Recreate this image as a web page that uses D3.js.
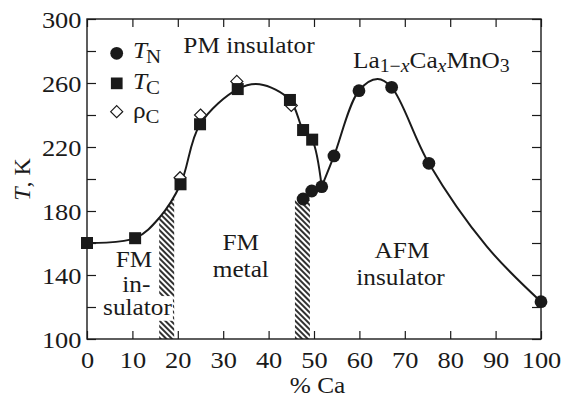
<!DOCTYPE html>
<html><head><meta charset="utf-8">
<script src="https://cdn.jsdelivr.net/npm/d3@7"></script>
<style>
body{margin:0;background:#fff}
svg{display:block}
text{font-family:"Liberation Serif","Times New Roman",serif;fill:#1a1a1a}
</style>
</head><body>
<svg id="c" width="564" height="400"></svg>
<script>
// ---- data ----
const tnX = [47.6, 49.5, 51.7, 54.4, 59.9, 67.1, 75.3, 100];
const tnY = [187.5, 192.5, 195.2, 214.4, 255.2, 257.3, 209.8, 123.3];
const tcX = [0, 10.6, 20.6, 24.9, 33.2, 44.7, 47.6, 49.6];
const tcY = [160, 163, 196.7, 234.2, 256.2, 249.4, 230.6, 224.6];
const rhoX = [20.5, 25, 33, 45];
const rhoY = [200.8, 240, 261, 246];
const leftCurveX = [0, 10.6, 16, 20.6, 24.9, 33.2, 38, 44.7, 47.6, 49.6, 51.7];
const leftCurveY = [160, 163, 176, 196.7, 234.2, 256.2, 259.2, 249.4, 230.6, 224.6, 195.2];
const rightCurveX = [51.7, 54.4, 59.9, 64, 67.1, 75.3, 88, 100];
const rightCurveY = [195.2, 214.4, 255.2, 262.5, 257.3, 209.8, 158, 123.3];
const hatchX0 = [15.9, 45.8];
const hatchX1 = [19.2, 49.1];
const hatchTop = [300, 187];
const xTicks = [0, 10, 20, 30, 40, 50, 60, 70, 80, 90, 100];
const yTicks = [100, 120, 140, 160, 180, 200, 220, 240, 260, 280, 300];
const yTickLabels = [100, 140, 180, 220, 260, 300];

// ---- layout ----
const L = 87, R = 541, T = 19, B = 339;
const SX = 1.1; // horizontal text stretch
const ink = "#1a1a1a";
const svg = d3.select("#c");
const x = d3.scaleLinear().domain([0, 100]).range([L, R]);
const y = d3.scaleLinear().domain([100, 300]).range([B, T]);

const defs = svg.append("defs");
const pat = defs.append("pattern").attr("id", "hatch")
  .attr("patternUnits", "userSpaceOnUse").attr("width", 4).attr("height", 4)
  .attr("patternTransform", "rotate(-45)");
pat.append("rect").attr("width", 4).attr("height", 4).attr("fill", "#fff");
pat.append("line").attr("x1", 2).attr("y1", -1).attr("x2", 2).attr("y2", 5)
  .attr("stroke", ink).attr("stroke-width", 1.8);

const leftPts = leftCurveX.map((v, i) => [v, leftCurveY[i]]);
const rightPts = rightCurveX.map((v, i) => [v, rightCurveY[i]]);
const curve = d3.curveCatmullRom.alpha(0.5);
const areaGen = d3.area().x(d => x(d[0])).y0(B).y1(d => y(d[1])).curve(curve);
defs.append("clipPath").attr("id", "under").append("path").attr("d", areaGen(leftPts));

// hatched regions
svg.append("g").attr("clip-path", "url(#under)").selectAll("rect")
  .data(hatchX0.map((v, i) => ({x0: v, x1: hatchX1[i], top: hatchTop[i]})))
  .join("rect")
  .attr("x", d => x(d.x0)).attr("width", d => x(d.x1) - x(d.x0))
  .attr("y", d => y(d.top)).attr("height", d => B - y(d.top))
  .attr("fill", "url(#hatch)");

// text helper
function txt(px, py, parts, anchor, size) {
  const t = svg.append("text")
    .attr("transform", `translate(${px},${py}) scale(${SX},1)`)
    .attr("text-anchor", anchor || "start")
    .style("font-size", (size || 23) + "px");
  parts.forEach(p => {
    const s = t.append("tspan").text(p.t);
    if (p.i) s.style("font-style", "italic");
    if (p.s) s.style("font-size", p.s + "px");
    if (p.dy) s.attr("dy", p.dy);
    if (p.dx) s.attr("dx", p.dx);
  });
  return t;
}

// region labels (with white backing under "sulator")
const sul = txt(137.5, 315, [{t: "sulator"}], "middle");
const bb = sul.node().getBBox();
svg.insert("rect", "text").attr("x", 137.5 + bb.x * SX - 1).attr("y", 315 + bb.y + 2)
  .attr("width", bb.width * SX + 2).attr("height", bb.height - 1).attr("fill", "#fff");
txt(134, 266.7, [{t: "FM"}], "middle");
txt(136.3, 291.7, [{t: "in-"}], "middle");
txt(240.8, 250, [{t: "FM"}], "middle");
txt(240.8, 276.7, [{t: "metal"}], "middle");
txt(402, 258.3, [{t: "AFM"}], "middle");
txt(400.5, 285, [{t: "insulator"}], "middle");
txt(249, 53.3, [{t: "PM insulator"}], "middle");
txt(353, 68, [
  {t: "La"}, {t: "1\u2212", s: 18, dy: 4}, {t: "x", s: 18, i: 1},
  {t: "Ca", dy: -4}, {t: "x", s: 18, i: 1, dy: 4}, {t: "MnO", dy: -4}, {t: "3", s: 18, dy: 4}
]);

// curves
const lineGen = d3.line().x(d => x(d[0])).y(d => y(d[1])).curve(curve);
[leftPts, rightPts].forEach(p => svg.append("path").attr("d", lineGen(p))
  .attr("fill", "none").attr("stroke", ink).attr("stroke-width", 2));

// markers
function diamondPath(cx, cy, h) { return `M${cx},${cy - h}L${cx + h},${cy}L${cx},${cy + h}L${cx - h},${cy}Z`; }
svg.append("g").selectAll("path").data(rhoX.map((v, i) => [v, rhoY[i]])).join("path")
  .attr("d", d => diamondPath(x(d[0]), y(d[1]), 6))
  .attr("fill", "#fff").attr("stroke", ink).attr("stroke-width", 1.2);
svg.append("g").selectAll("rect").data(tcX.map((v, i) => [v, tcY[i]])).join("rect")
  .attr("x", d => x(d[0]) - 6).attr("y", d => y(d[1]) - 6).attr("width", 12).attr("height", 12)
  .attr("fill", ink);
svg.append("g").selectAll("circle").data(tnX.map((v, i) => [v, tnY[i]])).join("circle")
  .attr("cx", d => x(d[0])).attr("cy", d => y(d[1])).attr("r", 6.4).attr("fill", ink);

// legend
svg.append("circle").attr("cx", 116.7).attr("cy", 53.3).attr("r", 6.4).attr("fill", ink);
svg.append("rect").attr("x", 110.9).attr("y", 77.5).attr("width", 11.7).attr("height", 11.7).attr("fill", ink);
svg.append("path").attr("d", diamondPath(116.7, 111.7, 6)).attr("fill", "#fff").attr("stroke", ink).attr("stroke-width", 1.2);
txt(133, 58.3, [{t: "T", i: 1}, {t: "N", s: 19, dy: 5, dx: -1}]);
txt(133, 89.3, [{t: "T", i: 1}, {t: "C", s: 19, dy: 5, dx: -1}]);
txt(133, 117.5, [{t: "\u03c1"}, {t: "C", s: 19, dy: 5}]);

// axes (inward ticks on all sides)
function styleAxis(g) {
  g.select(".domain").remove();
  g.selectAll(".tick line").attr("stroke", ink).attr("stroke-width", 1.2);
}
const gx = svg.append("g").attr("transform", `translate(0,${B})`)
  .call(d3.axisBottom(x).tickValues(xTicks).tickSizeInner(-8).tickSizeOuter(0).tickFormat(d3.format("d")));
styleAxis(gx);
gx.selectAll(".tick text").attr("y", 29).attr("dy", null)
  .attr("transform", `scale(${SX},1)`).style("font-size", "24px").style("font-family", '"Liberation Serif",serif').attr("fill", ink);
const gy = svg.append("g").attr("transform", `translate(${L},0)`)
  .call(d3.axisLeft(y).tickValues(yTicks).tickSizeInner(-9).tickSizeOuter(0)
    .tickFormat(d => yTickLabels.includes(d) ? d : ""));
styleAxis(gy);
gy.selectAll(".tick text").attr("x", -5).attr("dy", null).attr("y", 8)
  .attr("transform", `scale(${SX},1)`).style("font-size", "24px").style("font-family", '"Liberation Serif",serif').attr("fill", ink);
const gt = svg.append("g").attr("transform", `translate(0,${T})`)
  .call(d3.axisTop(x).tickValues(xTicks).tickSizeInner(-8).tickSizeOuter(0).tickFormat(""));
styleAxis(gt);
const gr = svg.append("g").attr("transform", `translate(${R},0)`)
  .call(d3.axisRight(y).tickValues(yTicks).tickSizeInner(-9).tickSizeOuter(0).tickFormat(""));
styleAxis(gr);

svg.append("rect").attr("x", L).attr("y", T).attr("width", R - L).attr("height", B - T)
  .attr("fill", "none").attr("stroke", ink).attr("stroke-width", 1.4);

// axis titles
txt(317.5, 393, [{t: "% Ca"}], "middle", 23);
svg.append("text").attr("transform", "translate(29.5,179.5) rotate(-90)")
  .attr("text-anchor", "middle").style("font-size", "24px")
  .call(t => { t.append("tspan").style("font-style", "italic").text("T"); t.append("tspan").text(", K"); });
</script>
</body></html>
